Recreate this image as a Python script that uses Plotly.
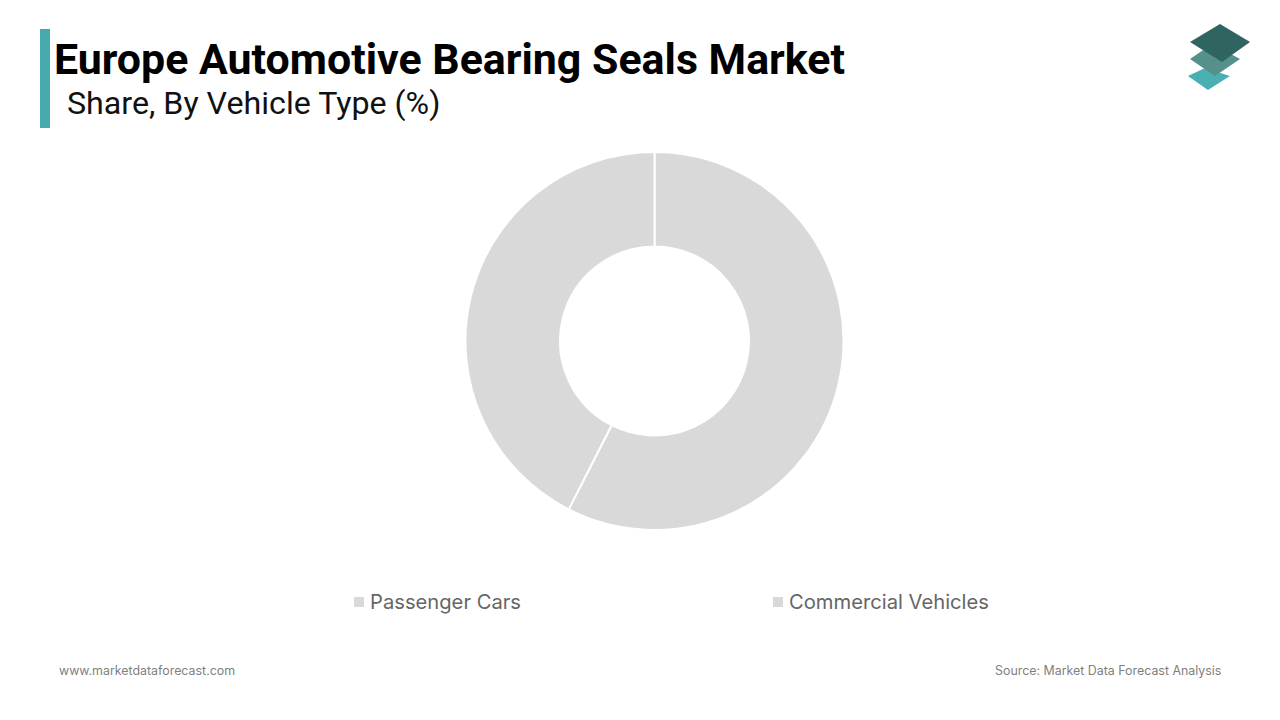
import plotly.graph_objects as go

vehicle_types = ["Passenger Cars", "Commercial Vehicles"]
shares = [57.5, 42.5]
slice_colors = ["#d9d9d9", "#d9d9d9"]

title = "Europe Automotive Bearing Seals Market"
subtitle = "Share, By Vehicle Type (%)"
site = "www.marketdataforecast.com"
source = "Source: Market Data Forecast Analysis"

W = 1280
H = 720


def px_x(x):
    return x / W


def px_y(y):
    return 1 - y / H


def text(x, y, s, size, color, anchor="left", bold=False, family="Roboto"):
    return dict(
        x=px_x(x), y=px_y(y), xref="paper", yref="paper", text=f"<b>{s}</b>" if bold else s,
        showarrow=False, xanchor=anchor, yanchor="middle",
        font=dict(family=family, size=size, color=color), borderpad=0, borderwidth=0,
    )


def poly(points, color):
    path = "M" + " L".join(f"{px_x(x):.4f},{px_y(y):.4f}" for x, y in points) + " Z"
    return dict(type="path", xref="paper", yref="paper", path=path, fillcolor=color, line=dict(width=0), layer="above")


fig = go.Figure(
    data=go.Pie(
        labels=vehicle_types,
        values=shares,
        hole=0.5,
        sort=False,
        direction="clockwise",
        rotation=0,
        textinfo="none",
        hoverinfo="none",
        showlegend=False,
        marker=dict(colors=slice_colors, line=dict(color="white", width=2)),
        domain=dict(x=[px_x(465.5), px_x(843.5)], y=[px_y(530), px_y(152)]),
    )
)

shapes = [
    dict(type="rect", xref="paper", yref="paper", x0=px_x(40), x1=px_x(50), y0=px_y(128), y1=px_y(29),
         fillcolor="#48aaad", line=dict(width=0)),
    # logo, bottom layer first
    poly([(1205, 68), (1230, 76), (1208, 90), (1188, 76)], "#48b0b2"),
    poly([(1212, 44), (1240, 59), (1215, 76), (1190, 59)], "#56908d"),
    poly([(1220, 24), (1250, 42), (1222, 62), (1190, 42)], "#2f6461"),
    # legend swatches
    dict(type="rect", xref="paper", yref="paper", x0=px_x(354), x1=px_x(364), y0=px_y(607), y1=px_y(597),
         fillcolor=slice_colors[0], line=dict(width=0)),
    dict(type="rect", xref="paper", yref="paper", x0=px_x(773), x1=px_x(783), y0=px_y(607), y1=px_y(597),
         fillcolor=slice_colors[1], line=dict(width=0)),
]

annotations = [
    text(54, 59, title, 42.9, "#000000", bold=True),
    text(67, 102.5, subtitle, 32.2, "#111111"),
    text(370, 601, vehicle_types[0], 20.2, "#666666", family="Inter"),
    text(789, 601, vehicle_types[1], 20.2, "#666666", family="Inter"),
    text(59, 670, site, 12.4, "#7f7f7f", family="Inter"),
    text(1221, 670, source, 12.4, "#7f7f7f", anchor="right", family="Inter"),
]

fig.update_layout(
    width=W,
    height=H,
    margin=dict(l=0, r=0, t=0, b=0),
    paper_bgcolor="white",
    plot_bgcolor="white",
    shapes=shapes,
    annotations=annotations,
)

# the page's default body margin would push everything 8px in
fig.write_html("out.html", config={"displayModeBar": False}, post_script="document.body.style.margin = '0';")
